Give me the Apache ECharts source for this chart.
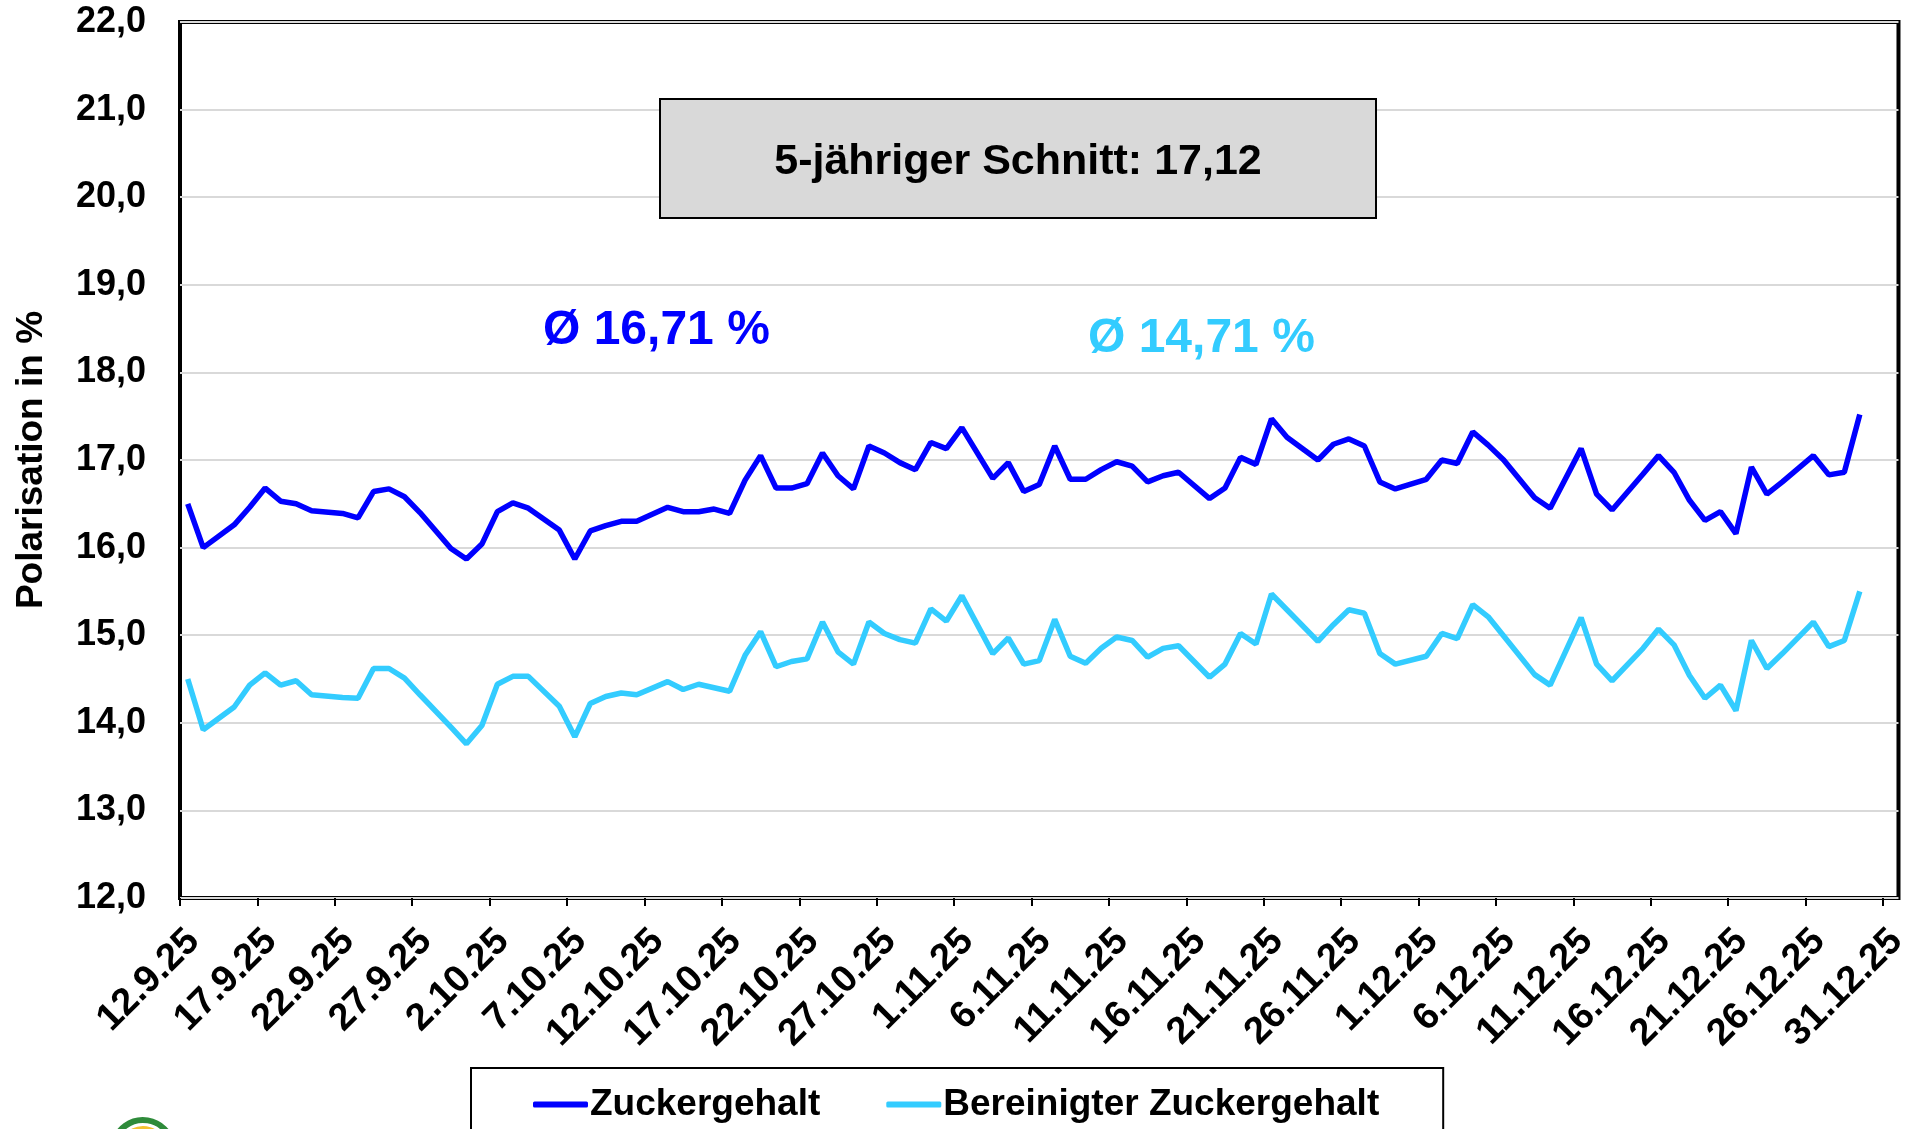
<!DOCTYPE html>
<html>
<head>
<meta charset="utf-8">
<title>Polarisation</title>
<script src="https://cdn.jsdelivr.net/npm/echarts@6/dist/echarts.min.js"></script>
<style>
  html, body { margin: 0; padding: 0; background: #fff; }
  #chart { width: 1912px; height: 1129px; }
</style>
</head>
<body>
<div id="chart"></div>
<script>
// sampling days (d.m.yy)
const dates = [
  '12.9.25', '13.9.25', '15.9.25', '16.9.25', '17.9.25', '18.9.25', '19.9.25', '20.9.25',
  '22.9.25', '23.9.25', '24.9.25', '25.9.25', '26.9.25', '27.9.25', '29.9.25', '30.9.25',
  '1.10.25', '2.10.25', '3.10.25', '4.10.25', '6.10.25', '7.10.25', '8.10.25', '9.10.25',
  '10.10.25', '11.10.25', '13.10.25', '14.10.25', '15.10.25', '16.10.25', '17.10.25', '18.10.25',
  '19.10.25', '20.10.25', '21.10.25', '22.10.25', '23.10.25', '24.10.25', '25.10.25', '26.10.25',
  '27.10.25', '28.10.25', '29.10.25', '30.10.25', '31.10.25', '1.11.25', '3.11.25', '4.11.25',
  '5.11.25', '6.11.25', '7.11.25', '8.11.25', '9.11.25', '10.11.25', '11.11.25', '12.11.25',
  '13.11.25', '14.11.25', '15.11.25', '17.11.25', '18.11.25', '19.11.25', '20.11.25', '21.11.25',
  '22.11.25', '24.11.25', '25.11.25', '26.11.25', '27.11.25', '28.11.25', '29.11.25', '1.12.25',
  '2.12.25', '3.12.25', '4.12.25', '5.12.25', '6.12.25', '8.12.25', '9.12.25', '11.12.25',
  '12.12.25', '13.12.25', '15.12.25', '16.12.25', '17.12.25', '18.12.25', '19.12.25', '20.12.25',
  '21.12.25', '22.12.25', '23.12.25', '24.12.25', '26.12.25', '27.12.25', '28.12.25', '29.12.25'
]

const zuckergehalt = [
  16.50, 16.00, 16.26, 16.46, 16.68, 16.53, 16.50, 16.42,
  16.39, 16.34, 16.64, 16.67, 16.58, 16.40, 15.99, 15.87,
  16.04, 16.41, 16.51, 16.45, 16.20, 15.87, 16.19, 16.25,
  16.30, 16.30, 16.46, 16.41, 16.41, 16.44, 16.39, 16.77,
  17.05, 16.68, 16.68, 16.73, 17.08, 16.82, 16.67, 17.16,
  17.08, 16.97, 16.89, 17.20, 17.13, 17.37, 16.79, 16.97,
  16.64, 16.72, 17.16, 16.78, 16.78, 16.89, 16.98, 16.93,
  16.75, 16.82, 16.86, 16.56, 16.68, 17.03, 16.95, 17.47,
  17.26, 17.00, 17.18, 17.24, 17.16, 16.75, 16.67, 16.78,
  17.00, 16.96, 17.32, 17.17, 17.00, 16.57, 16.45, 17.13,
  16.61, 16.43, 16.84, 17.05, 16.86, 16.54, 16.31, 16.41,
  16.16, 16.92, 16.61, 16.75, 17.05, 16.83, 16.86, 17.52
]

const bereinigt = [
  14.50, 13.92, 14.18, 14.43, 14.57, 14.43, 14.48, 14.32,
  14.29, 14.28, 14.62, 14.62, 14.51, 14.32, 13.95, 13.76,
  13.97, 14.44, 14.53, 14.53, 14.19, 13.84, 14.22, 14.30,
  14.34, 14.32, 14.47, 14.38, 14.44, 14.40, 14.36, 14.77,
  15.04, 14.64, 14.70, 14.73, 15.15, 14.81, 14.67, 15.15,
  15.02, 14.95, 14.91, 15.30, 15.16, 15.45, 14.79, 14.97,
  14.67, 14.71, 15.18, 14.76, 14.68, 14.85, 14.98, 14.94,
  14.75, 14.85, 14.88, 14.52, 14.67, 15.02, 14.90, 15.47,
  15.29, 14.93, 15.12, 15.29, 15.25, 14.79, 14.67, 14.76,
  15.02, 14.96, 15.35, 15.21, 14.99, 14.55, 14.43, 15.20,
  14.67, 14.48, 14.85, 15.07, 14.89, 14.54, 14.28, 14.43,
  14.14, 14.94, 14.62, 14.79, 15.15, 14.87, 14.94, 15.50
]

const tickLabels = [
  '12.9.25', '17.9.25', '22.9.25', '27.9.25', '2.10.25', '7.10.25', '12.10.25', '17.10.25',
  '22.10.25', '27.10.25', '1.11.25', '6.11.25', '11.11.25', '16.11.25', '21.11.25', '26.11.25',
  '1.12.25', '6.12.25', '11.12.25', '16.12.25', '21.12.25', '26.12.25', '31.12.25'
]

const seriesNames = ['Zuckergehalt', 'Bereinigter Zuckergehalt']
const seriesColors = ['#0000ff', '#33ccff']
const averages = ['Ø 16,71 %', 'Ø 14,71 %']
const boxText = '5-jähriger Schnitt: 17,12'

const FONT = '"Liberation Sans", Arial, sans-serif'
const DAY = 24 * 3600 * 1000

function parseDate (s) {
  let p = s.split('.').map(Number)
  return Date.UTC(2000 + p[2], p[1] - 1, p[0])
}
const start = parseDate(dates[0])
// Excel date axis: a day's value sits in the middle of its day slot
const xOf = s => (parseDate(s) - start) / DAY + 0.5
const tickValues = tickLabels.map((_, i) => i * 5)

let chart = echarts.init(document.getElementById('chart'))

let option = {
  animation: false,
  backgroundColor: '#fff',
  grid: {
    left: 180,
    top: 22,
    right: 7,
    bottom: 231,
    show: true,
    borderColor: '#000',
    borderWidth: 4,
    backgroundColor: 'transparent'
  },
  xAxis: {
    type: 'value',
    min: 0,
    max: 111,
    interval: 5,
    splitLine: { show: false },
    axisLine: { show: false },
    axisTick: {
      show: true,
      length: 8,
      customValues: tickValues,
      lineStyle: { color: '#000', width: 2 }
    },
    axisLabel: {
      customValues: tickValues,
      rotate: 45,
      margin: 24,
      verticalAlign: 'top',
      color: '#000',
      fontFamily: FONT,
      fontWeight: 'bold',
      fontSize: 38,
      formatter: v => tickLabels[Math.round(v / 5)] || ''
    }
  },
  yAxis: {
    type: 'value',
    min: 12,
    max: 22,
    interval: 1,
    name: 'Polarisation in %',
    nameLocation: 'middle',
    nameGap: 130,
    nameTextStyle: {
      color: '#000',
      fontFamily: FONT,
      fontWeight: 'bold',
      fontSize: 37
    },
    axisLine: { show: false },
    axisTick: { show: false },
    splitLine: { lineStyle: { color: '#d9d9d9', width: 2 } },
    axisLabel: {
      margin: 34,
      color: '#000',
      fontFamily: FONT,
      fontWeight: 'bold',
      fontSize: 36,
      formatter: v => v.toFixed(1).replace('.', ',')
    }
  },
  legend: {
    data: seriesNames,
    left: 471,
    top: 1068,
    padding: [18, 64, 30, 62],
    borderColor: '#000',
    borderWidth: 2,
    backgroundColor: '#fff',
    icon: 'roundRect',
    itemWidth: 55,
    itemHeight: 6,
    itemGap: 66,
    textStyle: {
      color: '#000',
      fontFamily: FONT,
      fontWeight: 'bold',
      fontSize: 37,
      padding: [0, 0, 0, -3]
    }
  },
  series: [
    {
      name: seriesNames[0],
      type: 'line',
      showSymbol: false,
      color: seriesColors[0],
      lineStyle: { width: 5.5, color: seriesColors[0] },
      data: dates.map((d, i) => [xOf(d), zuckergehalt[i]])
    },
    {
      name: seriesNames[1],
      type: 'line',
      showSymbol: false,
      color: seriesColors[1],
      lineStyle: { width: 5.5, color: seriesColors[1] },
      data: dates.map((d, i) => [xOf(d), bereinigt[i]])
    }
  ],
  graphic: [
    {
      type: 'rect',
      shape: { x: 660, y: 99, width: 716, height: 119 },
      style: { fill: '#d9d9d9', stroke: '#000', lineWidth: 2 },
      z: 10
    },
    {
      type: 'text',
      x: 1018,
      y: 162,
      style: {
        text: boxText,
        fill: '#000',
        font: 'bold 43px ' + FONT,
        textAlign: 'center',
        textVerticalAlign: 'middle'
      },
      z: 11
    },
    {
      type: 'text',
      x: 543,
      y: 331,
      style: {
        text: averages[0],
        fill: seriesColors[0],
        font: 'bold 48px ' + FONT,
        textAlign: 'left',
        textVerticalAlign: 'middle'
      },
      z: 11
    },
    {
      type: 'text',
      x: 1088,
      y: 339,
      style: {
        text: averages[1],
        fill: seriesColors[1],
        font: 'bold 48px ' + FONT,
        textAlign: 'left',
        textVerticalAlign: 'middle'
      },
      z: 11
    },
    // bits of the logo peeking in at the bottom left
    {
      type: 'arc',
      shape: { cx: 143, cy: 1150, r: 30, startAngle: Math.PI * 1.05, endAngle: Math.PI * 1.95 },
      style: { stroke: '#2e8b3a', lineWidth: 6, fill: null }
    },
    {
      type: 'arc',
      shape: { cx: 143, cy: 1150, r: 21, startAngle: Math.PI * 1.1, endAngle: Math.PI * 1.9 },
      style: { stroke: '#f2c230', lineWidth: 6, fill: null }
    }
  ]
}

chart.setOption(option)
</script>
</body>
</html>
